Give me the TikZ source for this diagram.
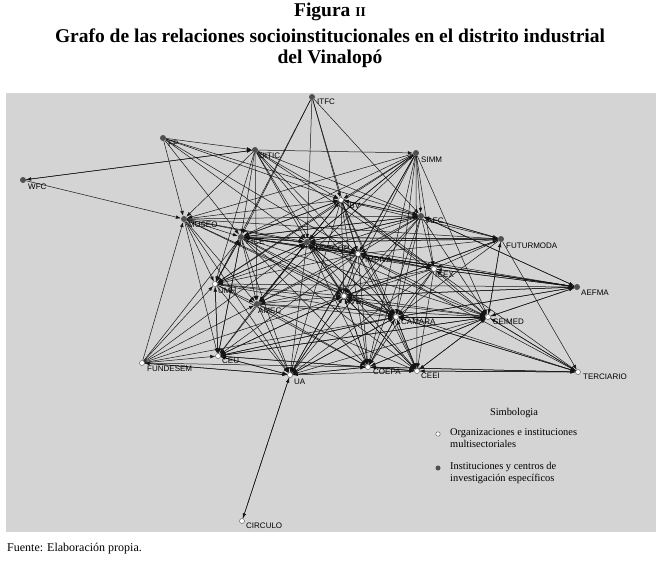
\documentclass[tikz,border=0pt]{standalone}
\usepackage{fontspec}
\setmainfont{Liberation Serif}
\newfontfamily\labfont{Liberation Sans}
\usetikzlibrary{arrows.meta}
\definecolor{boxgray}{RGB}{212,212,212}
\definecolor{dotgray}{RGB}{80,80,80}
\pgfdeclarelayer{bglayer}
\pgfdeclarelayer{edgelayer}
\pgfsetlayers{bglayer,edgelayer,main}
\begin{document}
\begin{tikzpicture}[x=1pt,y=-1pt,
  gnode/.style={circle, fill=dotgray, inner sep=0pt, minimum size=6pt},
  wnode/.style={circle, fill=white, draw=black!70, line width=0.4pt, inner sep=0pt, minimum size=5pt},
  lab/.style={anchor=west, inner sep=0pt, font=\labfont\fontsize{8}{9}\selectfont, text=black},
  edgeline/.style={draw=black!92, line width=0.5pt, -{Latex[length=5pt,width=3.6pt]}},
  titlefont/.style={font=\bfseries\fontsize{19.5}{22}\selectfont},
  legfont/.style={font=\fontsize{10.4}{12.5}\selectfont, inner sep=0pt}
]
\useasboundingbox (0,0) rectangle (660,566);
\begin{pgfonlayer}{bglayer}
\fill[boxgray] (6,93) rectangle (656,532);
\end{pgfonlayer}

% title
\node[titlefont] (t1) at (330,12) {Figura {\fontsize{13.5}{13.5}\selectfont II}};
\node[titlefont] (t2) at (330,36) {Grafo de las relaciones socioinstitucionales en el distrito industrial};
\node[titlefont] (t3) at (330,59) {del Vinalopó};

% nodes
\node[gnode] (ITFC) at (312,97) {};
\node[gnode] (FP) at (163,138) {};
\node[gnode] (UITIC) at (255,150) {};
\node[gnode] (WFC) at (23,180) {};
\node[gnode] (MUSEO) at (184,219) {};
\node[gnode] (SIMM) at (416,153) {};
\node[wnode] (IBV) at (341,200) {};
\node[gnode] (AEC) at (421,216) {};
\node[gnode] (FICE) at (241,237) {};
\node[gnode] (INESCOP) at (307,242) {};
\node[wnode] (IMPIVA) at (358,254) {};
\node[gnode] (FUTURMODA) at (501,239) {};
\node[wnode] (ICEX) at (434,269) {};
\node[gnode] (AEFMA) at (577,287) {};
\node[wnode] (UMH) at (215,284) {};
\node[gnode] (AMEC) at (257,304) {};
\node[wnode] (IVE) at (344,296) {};
\node[wnode] (CAMARA) at (396,317) {};
\node[wnode] (SEIMED) at (488,317) {};
\node[wnode] (FUNDESEM) at (142,363) {};
\node[wnode] (CEU) at (218,356) {};
\node[wnode] (UA) at (290,375) {};
\node[wnode] (COEPA) at (368,367) {};
\node[wnode] (CEEI) at (417,371) {};
\node[wnode] (TERCIARIO) at (578,372) {};
\node[wnode] (CIRCULO) at (242,521) {};

% labels
\node[lab] (lITFC) at (317,102) {ITFC};
\node[lab] (lFP) at (168,144) {FP};
\node[lab] (lUITIC) at (259,156) {UITIC};
\node[lab] (lWFC) at (28,187) {WFC};
\node[lab] (lMUSEO) at (188,225) {MUSEO};
\node[lab] (lSIMM) at (421,160) {SIMM};
\node[lab] (lIBV) at (347,206) {IBV};
\node[lab] (lAEC) at (427,221) {AEC};
\node[lab] (lFICE) at (246,242) {FICE};
\node[lab] (lINESCOP) at (313,249) {INESCOP};
\node[lab] (lIMPIVA) at (365,260) {IMPIVA};
\node[lab] (lICEX) at (435,275) {ICEX};
\node[lab] (lFUTURMODA) at (506,246) {FUTURMODA};
\node[lab] (lAEFMA) at (581,293) {AEFMA};
\node[lab] (lUMH) at (218,291) {UMH};
\node[lab] (lAMEC) at (258,311) {AMEC};
\node[lab] (lIVE) at (348,302) {IVE};
\node[lab] (lCAMARA) at (401,322) {CAMARA};
\node[lab] (lSEIMED) at (493,322) {SEIMED};
\node[lab] (lFUNDESEM) at (147,369) {FUNDESEM};
\node[lab] (lCEU) at (222,361) {CEU};
\node[lab] (lUA) at (294,382) {UA};
\node[lab] (lCOEPA) at (373,372) {COEPA};
\node[lab] (lCEEI) at (421,376) {CEEI};
\node[lab] (lTERCIARIO) at (583,377) {TERCIARIO};
\node[lab] (lCIRCULO) at (246,526) {CIRCULO};

% edges
\begin{pgfonlayer}{edgelayer}
\foreach \a/\b in {
WFC/UITIC, UITIC/WFC, WFC/MUSEO,
FP/UITIC, FP/MUSEO, FP/FICE, FP/INESCOP, FP/IBV, FP/AEC, FP/IMPIVA,
ITFC/FICE, ITFC/INESCOP, ITFC/IBV, ITFC/AEC, ITFC/UMH, ITFC/IMPIVA,
UITIC/SIMM, UITIC/FICE, UITIC/INESCOP, UITIC/IBV, UITIC/AEC, UITIC/IMPIVA, UITIC/ICEX, UITIC/MUSEO, UITIC/UMH, UITIC/AMEC, UITIC/CAMARA, UITIC/IVE,
SIMM/IBV, SIMM/AEC, SIMM/INESCOP, SIMM/FICE, SIMM/MUSEO, SIMM/IMPIVA, SIMM/ICEX, SIMM/IVE, SIMM/CAMARA, SIMM/SEIMED, SIMM/COEPA, SIMM/CEEI, SIMM/UMH, SIMM/AMEC, SIMM/UA,
MUSEO/FICE, MUSEO/INESCOP, MUSEO/IBV, MUSEO/AEC, MUSEO/UMH, MUSEO/AMEC, MUSEO/CEU, MUSEO/UA, MUSEO/IVE, MUSEO/IMPIVA, MUSEO/FUTURMODA, MUSEO/CAMARA,
FUTURMODA/AEC, FUTURMODA/IBV, FUTURMODA/INESCOP, FUTURMODA/IMPIVA, FUTURMODA/ICEX, FUTURMODA/SEIMED, FUTURMODA/TERCIARIO, FUTURMODA/CAMARA, FUTURMODA/IVE, FUTURMODA/FICE,
AEFMA/AEC, AEFMA/INESCOP, AEFMA/IMPIVA, AEFMA/ICEX, AEFMA/IVE, AEFMA/CAMARA, AEFMA/SEIMED, AEFMA/FICE, AEFMA/UMH,
TERCIARIO/SEIMED, TERCIARIO/ICEX, TERCIARIO/CAMARA, TERCIARIO/IVE, TERCIARIO/CEEI, TERCIARIO/COEPA, TERCIARIO/IMPIVA,
FUNDESEM/UMH, FUNDESEM/FICE, FUNDESEM/AMEC, FUNDESEM/CEU, FUNDESEM/UA, FUNDESEM/COEPA, FUNDESEM/INESCOP, FUNDESEM/IVE, FUNDESEM/MUSEO, FUNDESEM/CAMARA,
CIRCULO/UA, UA/CIRCULO,
FICE/INESCOP, INESCOP/FICE, FICE/IBV, FICE/AEC, FICE/IMPIVA, FICE/ICEX, FICE/UMH, FICE/AMEC, FICE/IVE, FICE/CAMARA, FICE/SEIMED, FICE/CEU, FICE/UA, FICE/COEPA, FICE/CEEI, FICE/FUTURMODA, FICE/AEFMA,
INESCOP/IBV, INESCOP/AEC, INESCOP/IMPIVA, INESCOP/ICEX, INESCOP/UMH, INESCOP/AMEC, INESCOP/IVE, INESCOP/CAMARA, INESCOP/SEIMED, INESCOP/CEU, INESCOP/UA, INESCOP/COEPA, INESCOP/CEEI, INESCOP/SIMM, INESCOP/FUTURMODA,
IBV/AEC, IBV/IMPIVA, IBV/ICEX, IBV/UMH, IBV/AMEC, IBV/IVE, IBV/CAMARA, IBV/SEIMED, IBV/UA, IBV/COEPA, IBV/CEEI, IBV/INESCOP, IBV/FICE,
AEC/IBV, AEC/INESCOP, AEC/IMPIVA, AEC/ICEX, AEC/IVE, AEC/CAMARA, AEC/SEIMED, AEC/FUTURMODA, AEC/UA, AEC/COEPA, AEC/AMEC, AEC/UMH, AEC/FICE, AEC/AEFMA,
IMPIVA/ICEX, IMPIVA/IVE, IMPIVA/CAMARA, IMPIVA/SEIMED, IMPIVA/UA, IMPIVA/COEPA, IMPIVA/CEEI, IMPIVA/UMH, IMPIVA/AMEC, IMPIVA/INESCOP, IMPIVA/AEFMA, IMPIVA/CEU,
ICEX/CAMARA, ICEX/SEIMED, ICEX/IVE, ICEX/COEPA, ICEX/CEEI, ICEX/AEFMA, ICEX/UA, ICEX/AMEC,
UMH/AMEC, UMH/CEU, UMH/UA, UMH/IVE, UMH/CAMARA, UMH/COEPA, UMH/INESCOP, UMH/FICE, UMH/SEIMED,
AMEC/IVE, AMEC/CAMARA, AMEC/CEU, AMEC/UA, AMEC/COEPA, AMEC/CEEI, AMEC/SEIMED, AMEC/INESCOP,
IVE/CAMARA, IVE/SEIMED, IVE/UA, IVE/COEPA, IVE/CEEI, IVE/INESCOP, IVE/AEFMA, IVE/CEU, IVE/FUTURMODA,
CAMARA/SEIMED, CAMARA/COEPA, CAMARA/CEEI, CAMARA/UA, CAMARA/IVE, CAMARA/CEU, CAMARA/AEFMA, CAMARA/TERCIARIO, CAMARA/INESCOP,
SEIMED/CEEI, SEIMED/COEPA, SEIMED/UA, SEIMED/CAMARA, SEIMED/TERCIARIO, SEIMED/CEU, SEIMED/AEFMA, SEIMED/FUTURMODA,
CEU/UA, CEU/COEPA, CEU/CAMARA, CEU/SEIMED, CEU/IVE, CEU/FICE, CEU/UMH, CEU/CEEI,
UA/COEPA, UA/CEEI, UA/CAMARA, UA/IVE, UA/CEU, UA/FUNDESEM,
COEPA/CEEI, COEPA/CAMARA, COEPA/UA, COEPA/SEIMED, COEPA/TERCIARIO, COEPA/IVE,
CEEI/TERCIARIO, CEEI/CAMARA, CEEI/SEIMED, CEEI/COEPA, CEEI/IVE}
  \draw[edgeline] (\a) -- (\b);
\end{pgfonlayer}

% legend
\node[legfont] (simb) at (514,413) {Simbologia};
\node[wnode, minimum size=4.5pt] (legw) at (438,434) {};
\node[gnode, minimum size=5pt] (legg) at (438,468) {};
\node[legfont, anchor=north west, align=left] (legwt) at (450,428) {Organizaciones e instituciones\\multisectoriales};
\node[legfont, anchor=north west, align=left] (leggt) at (450,462) {Instituciones y centros de\\investigación específicos};

% source
\node[font=\fontsize{12}{14}\selectfont, inner sep=0pt, anchor=west] (fuente) at (7,549) {Fuente: Elaboración propia.};
\end{tikzpicture}
\end{document}
